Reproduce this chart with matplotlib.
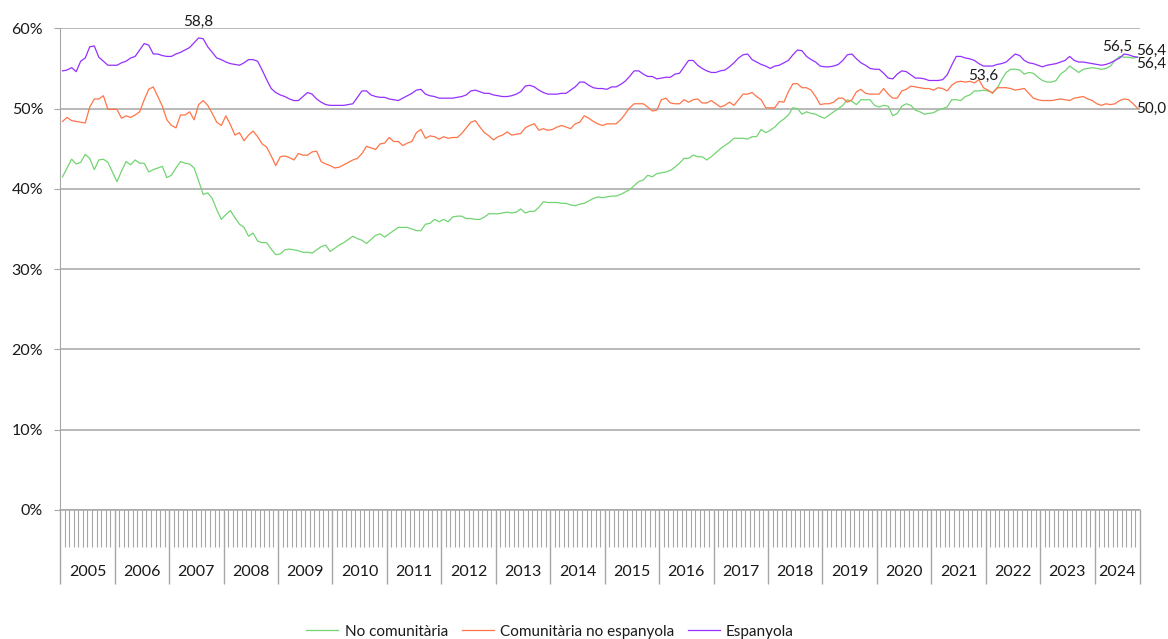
import numpy as np
import matplotlib
matplotlib.use("Agg")
import matplotlib.pyplot as plt
from matplotlib.ticker import FuncFormatter

plt.rcParams['font.family'] = ['Lato', 'DejaVu Sans']

# monthly shares (%), Jan 2005 - Oct 2024
years = [str(y) for y in range(2005, 2025)]

no_comunitaria = [
    41.5, 42.6, 43.7, 43.1, 43.3, 44.3, 43.8, 42.4, 43.6, 43.7, 43.3, 42.1,
    40.9, 42.2, 43.4, 43.0, 43.6, 43.2, 43.2, 42.1, 42.4, 42.6, 42.8, 41.4,
    41.7, 42.6, 43.4, 43.2, 43.1, 42.6, 41.0, 39.3, 39.5, 38.8, 37.4, 36.2,
    36.8, 37.3, 36.4, 35.6, 35.2, 34.1, 34.5, 33.5, 33.3, 33.3, 32.5, 31.8,
    31.9, 32.4, 32.5, 32.4, 32.3, 32.1, 32.1, 32.0, 32.4, 32.8, 33.0, 32.2,
    32.6, 33.0, 33.3, 33.7, 34.1, 33.8, 33.6, 33.2, 33.7, 34.2, 34.4, 34.0,
    34.4, 34.8, 35.2, 35.2, 35.2, 35.0, 34.8, 34.8, 35.6, 35.7, 36.2, 35.9,
    36.2, 35.9, 36.5, 36.6, 36.6, 36.3, 36.3, 36.2, 36.2, 36.5, 36.9, 36.9,
    36.9, 37.0, 37.1, 37.0, 37.1, 37.5, 37.0, 37.2, 37.2, 37.7, 38.4, 38.3,
    38.3, 38.3, 38.2, 38.2, 38.0, 37.9, 38.1, 38.2, 38.5, 38.8, 39.0, 38.9,
    39.0, 39.1, 39.1, 39.3, 39.6, 39.9, 40.4, 40.9, 41.1, 41.7, 41.5, 41.9,
    42.0, 42.1, 42.3, 42.7, 43.2, 43.8, 43.8, 44.2, 44.0, 44.0, 43.6, 44.0,
    44.5, 45.0, 45.4, 45.8, 46.3, 46.3, 46.3, 46.2, 46.5, 46.5, 47.4, 47.0,
    47.3, 47.7, 48.3, 48.7, 49.2, 50.1, 50.0, 49.3, 49.6, 49.4, 49.3, 49.0,
    48.8, 49.2, 49.6, 50.0, 50.4, 51.1, 50.9, 50.5, 51.1, 51.1, 51.1, 50.4,
    50.2, 50.4, 50.3, 49.1, 49.4, 50.3, 50.6, 50.4, 49.8, 49.6, 49.3, 49.4,
    49.5, 49.8, 50.0, 50.2, 51.1, 51.1, 51.0, 51.5, 51.7, 52.2, 52.2, 52.3,
    52.2, 52.0, 52.5, 53.6, 54.5, 54.9, 54.9, 54.8, 54.3, 54.5, 54.4, 53.9,
    53.5, 53.3, 53.3, 53.5, 54.3, 54.7, 55.3, 54.9, 54.5, 54.9, 55.0, 55.1,
    55.0, 54.9, 55.0, 55.3, 56.0, 56.5, 56.4, 56.4, 56.3, 56.4,
]

comunitaria = [
    48.4, 48.9, 48.5, 48.4, 48.3, 48.2, 50.2, 51.2, 51.2, 51.6, 49.9, 49.9,
    49.9, 48.8, 49.1, 48.9, 49.2, 49.6, 51.1, 52.4, 52.7, 51.5, 50.3, 48.6,
    47.9, 47.6, 49.2, 49.2, 49.6, 48.6, 50.5, 51.0, 50.4, 49.4, 48.3, 47.9,
    49.1, 48.0, 46.7, 47.0, 46.0, 46.7, 47.2, 46.5, 45.6, 45.2, 44.1, 42.9,
    44.0, 44.1, 43.9, 43.6, 44.4, 44.2, 44.2, 44.6, 44.7, 43.4, 43.1, 42.9,
    42.6, 42.7, 43.0, 43.3, 43.6, 43.8, 44.4, 45.3, 45.1, 44.9, 45.6, 45.7,
    46.4, 45.9, 45.9, 45.4, 45.7, 45.9, 47.0, 47.4, 46.3, 46.6, 46.5, 46.2,
    46.5, 46.3, 46.4, 46.4, 46.9, 47.6, 48.3, 48.5, 47.7, 47.0, 46.6, 46.1,
    46.5, 46.7, 47.1, 46.7, 46.8, 46.9, 47.6, 47.9, 48.1, 47.3, 47.5, 47.3,
    47.4, 47.7, 47.9, 47.7, 47.5, 48.1, 48.3, 49.1, 48.8, 48.4, 48.1, 47.9,
    48.1, 48.1, 48.1, 48.6, 49.3, 50.1, 50.6, 50.6, 50.6, 50.2, 49.7, 49.8,
    51.1, 51.3, 50.7, 50.6, 50.6, 51.1, 50.8, 51.1, 51.2, 50.7, 50.7, 51.0,
    50.6, 50.2, 50.4, 50.8, 50.4, 51.1, 51.8, 51.8, 52.0, 51.5, 51.1, 50.1,
    50.1, 50.1, 50.9, 50.8, 52.1, 53.1, 53.1, 52.6, 52.6, 52.3, 51.5, 50.5,
    50.6, 50.6, 50.8, 51.3, 51.3, 50.8, 51.1, 52.1, 52.4, 51.9, 51.8, 51.8,
    51.8, 52.5, 51.8, 51.3, 51.3, 52.2, 52.4, 52.8, 52.7, 52.6, 52.5, 52.5,
    52.3, 52.6, 52.5, 52.2, 52.9, 53.3, 53.4, 53.3, 53.4, 53.2, 53.6, 52.6,
    52.3, 51.9, 52.6, 52.6, 52.6, 52.5, 52.3, 52.4, 52.5, 51.9, 51.3, 51.1,
    51.0, 51.0, 51.0, 51.1, 51.2, 51.1, 51.0, 51.3, 51.4, 51.5, 51.2, 51.0,
    50.6, 50.4, 50.6, 50.5, 50.6, 51.0, 51.2, 51.1, 50.6, 50.0,
]

espanyola = [
    54.7, 54.8, 55.1, 54.6, 55.9, 56.3, 57.7, 57.8, 56.4, 55.9, 55.4, 55.4,
    55.4, 55.7, 55.9, 56.3, 56.5, 57.3, 58.1, 57.9, 56.8, 56.8, 56.6, 56.5,
    56.5, 56.8, 57.0, 57.3, 57.6, 58.2, 58.8, 58.7, 57.7, 57.0, 56.3, 56.1,
    55.8, 55.6, 55.5, 55.4, 55.7, 56.1, 56.1, 55.9, 54.8, 53.6, 52.5, 52.0,
    51.7, 51.5, 51.2, 51.0, 51.0, 51.5, 52.0, 51.8, 51.2, 50.8, 50.5, 50.4,
    50.4, 50.4, 50.4, 50.5, 50.6, 51.4, 52.2, 52.2, 51.7, 51.5, 51.4, 51.4,
    51.2, 51.1, 51.0, 51.3, 51.6, 51.9, 52.3, 52.4, 51.8, 51.6, 51.5, 51.3,
    51.3, 51.3, 51.3, 51.4, 51.5, 51.7, 52.2, 52.3, 52.1, 51.9, 51.9, 51.7,
    51.6, 51.5, 51.5, 51.6, 51.8, 52.1, 52.8, 52.9, 52.7, 52.3, 52.0, 51.8,
    51.8, 51.8, 51.9, 51.9, 52.3, 52.7, 53.3, 53.3, 52.9, 52.6, 52.5, 52.5,
    52.4, 52.7, 52.7, 53.0, 53.4, 54.0, 54.7, 54.7, 54.3, 54.0, 54.0, 53.7,
    53.8, 53.9, 53.9, 54.3, 54.4, 55.2, 56.0, 56.0, 55.4, 55.0, 54.7, 54.5,
    54.5, 54.7, 54.8, 55.2, 55.7, 56.3, 56.7, 56.8, 56.1, 55.8, 55.5, 55.3,
    55.0, 55.3, 55.4, 55.7, 56.0, 56.7, 57.3, 57.2, 56.5, 56.1, 55.8, 55.3,
    55.2, 55.2, 55.3, 55.5, 56.0, 56.7, 56.8, 56.2, 55.7, 55.4, 55.0, 54.9,
    54.9, 54.4, 53.8, 53.7, 54.3, 54.7, 54.6, 54.2, 53.8, 53.8, 53.7, 53.5,
    53.5, 53.5, 53.6, 54.2, 55.4, 56.5, 56.5, 56.3, 56.2, 56.0, 55.6, 55.3,
    55.3, 55.3, 55.5, 55.6, 55.8, 56.3, 56.8, 56.6, 56.0, 55.7, 55.6, 55.4,
    55.2, 55.4, 55.5, 55.6, 55.8, 56.0, 56.5, 56.0, 55.8, 55.8, 55.7, 55.6,
    55.5, 55.4, 55.5, 55.7, 56.0, 56.3, 56.8, 56.7, 56.5, 56.4,
]

series = [
    ("No comunitària", no_comunitaria, "#72d472"),
    ("Comunitària no espanyola", comunitaria, "#ff7448"),
    ("Espanyola", espanyola, "#9530ff"),
]

n = len(espanyola)
x = np.arange(n) + 0.5

fig = plt.figure(figsize=(11.68, 6.39), dpi=100)
ax = fig.add_axes([0.0516, 0.2019, 0.9244, 0.7538])

for name, vals, col in series:
    ax.plot(x, vals, color=col, lw=0.9, label=name)

ax.set_xlim(0, n)
ax.set_ylim(0, 60)
ax.set_yticks(range(0, 61, 10))
ax.yaxis.set_major_formatter(FuncFormatter(lambda v, p: f"{int(v)}%"))
ax.yaxis.grid(True, color="#a6a6a6", lw=1.1)
ax.set_axisbelow(True)

gray = "#a6a6a6"
for s in ["top", "right"]:
    ax.spines[s].set_visible(False)
ax.spines["left"].set_color(gray)
ax.spines["bottom"].set_color(gray)
ax.spines["bottom"].set_linewidth(1.1)

ax.tick_params(axis="y", length=4.3, color=gray, pad=8, labelsize=11.5,
               labelcolor="#1a1a1a")

# month ticks and year separators
bounds = list(range(0, n, 12)) + [n]
ax.set_xticks(bounds)
ax.set_xticklabels([])
ax.set_xticks(np.arange(0, n + 1), minor=True)
ax.tick_params(axis="x", which="major", length=53.5, width=1.0, color=gray)
ax.tick_params(axis="x", which="minor", length=26.7, width=0.8, color=gray)

for k, yr in enumerate(years):
    mid = (bounds[k] + bounds[k + 1]) / 2
    ax.text(mid, -0.128, yr, transform=ax.get_xaxis_transform(),
            ha="center", va="center", fontsize=11.5, color="#1a1a1a")

# data labels
lab = dict(textcoords="offset pixels", fontsize=11, color="#1a1a1a")
imax = int(np.argmax(espanyola))
ax.annotate("58,8", (x[imax], espanyola[imax]), xytext=(0, 16),
            ha="center", va="center", **lab)
imax = int(np.argmax(comunitaria))
ax.annotate("53,6", (x[imax], comunitaria[imax]), xytext=(4, 4),
            ha="center", va="center", **lab)
imax = int(np.argmax(no_comunitaria))
ax.annotate("56,5", (x[imax], no_comunitaria[imax]), xytext=(-2, 10),
            ha="center", va="center", **lab)
ax.annotate("56,4", (x[-1], espanyola[-1]), xytext=(-2, 6),
            ha="left", va="center", **lab)
ax.annotate("56,4", (x[-1], no_comunitaria[-1]), xytext=(-2, -7),
            ha="left", va="center", **lab)
ax.annotate("50,0", (x[-1], comunitaria[-1]), xytext=(-2, 0),
            ha="left", va="center", **lab)

fig.legend(loc="center", bbox_to_anchor=(0.471, 0.0114), ncol=3,
           frameon=False, fontsize=11, handlelength=2.1, handletextpad=0.4,
           columnspacing=0.9, labelcolor="#1a1a1a")

fig.savefig("out.png", dpi=100)
